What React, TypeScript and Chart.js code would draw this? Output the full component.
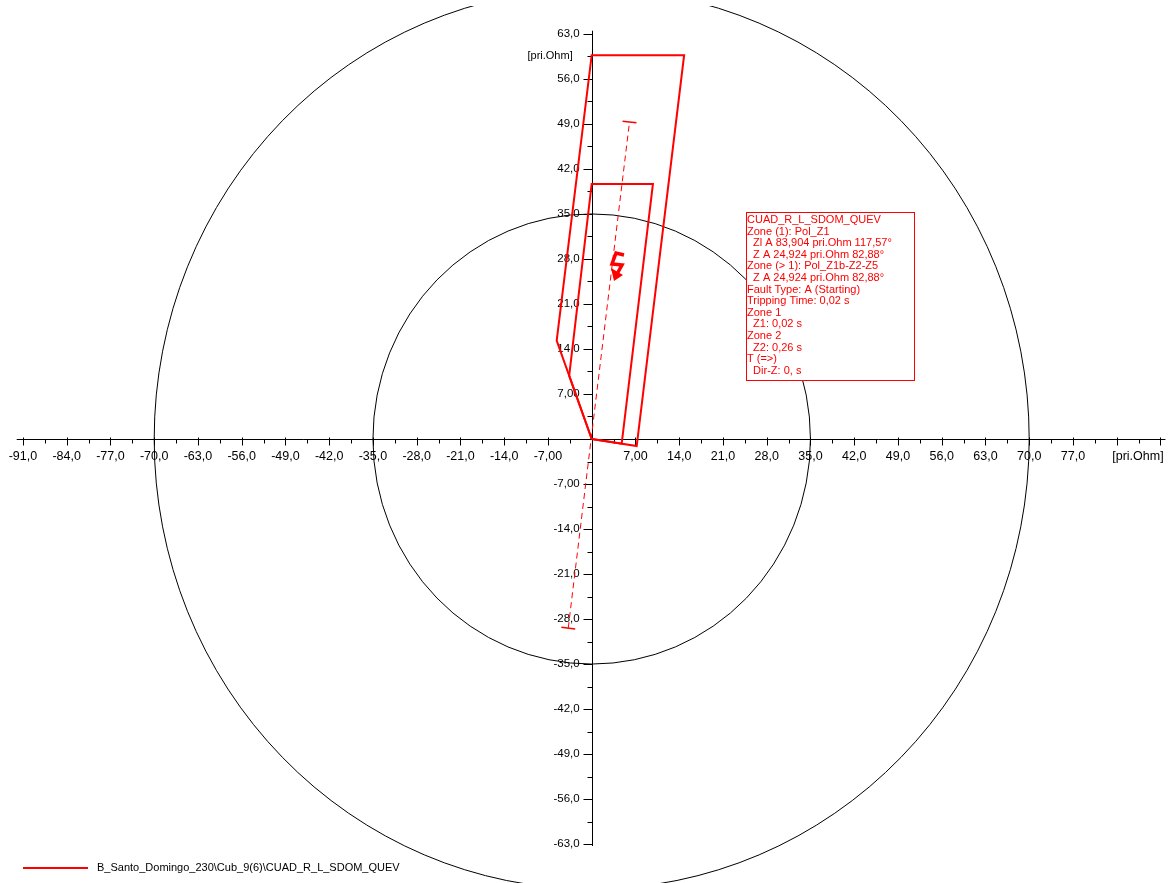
import React, { useEffect, useRef } from "react";
import { Chart, registerables } from "chart.js";

Chart.register(...registerables);

// Zone polygons (R, X in pri.Ohm)
const zone1R = [0, 4.8, 9.8, 0, -3.6, 0];
const zone1X = [0, -0.73, 39.66, 39.66, 9.85, 0];
const zone2R = [0, 7.2, 14.79, 0, -5.6, 0];
const zone2X = [0, -1.09, 59.7, 59.7, 15.3, 0];

// Line impedance direction (dashed), ends
const lineR = [-3.75, 6.05];
const lineX = [-29.4, 49.3];

// Fault impedance point
const faultR = [3.09];
const faultX = [24.73];

// Reference circles (radius in pri.Ohm)
const circleRadii = [35, 70];

// Axis ticks
const xTickValues = [-91, -84, -77, -70, -63, -56, -49, -42, -35, -28, -21, -14, -7, 7, 14, 21, 28, 35, 42, 49, 56, 63, 70, 77];
const yTickValues = [63, 56, 49, 42, 35, 28, 21, 14, 7, -7, -14, -21, -28, -35, -42, -49, -56, -63];
const unitLabel = "[pri.Ohm]";

const infoLines = [
  "CUAD_R_L_SDOM_QUEV",
  "Zone (1): Pol_Z1",
  "  Zl A 83,904 pri.Ohm 117,57°",
  "  Z A 24,924 pri.Ohm 82,88°",
  "Zone (> 1): Pol_Z1b-Z2-Z5",
  "  Z A 24,924 pri.Ohm 82,88°",
  "Fault Type: A (Starting)",
  "Tripping Time: 0,02 s",
  "Zone 1",
  "  Z1: 0,02 s",
  "Zone 2",
  "  Z2: 0,26 s",
  "T (=>)",
  "  Dir-Z: 0, s",
];

const legendLabel = "B_Santo_Domingo_230\\Cub_9(6)\\CUAD_R_L_SDOM_QUEV";

const RED = "#ff0000";
const FONT = "11px 'Liberation Sans', Arial, sans-serif";
const XFONT = "12.5px 'Liberation Sans', Arial, sans-serif";
const YFONT = "11.5px 'Liberation Sans', Arial, sans-serif";

function fmt(v: number): string {
  const s = Math.abs(v) >= 10 ? v.toFixed(1) : v.toFixed(2);
  return s.replace(".", ",");
}

function pts(xs: number[], ys: number[]) {
  return xs.map((x, i) => ({ x, y: ys[i] }));
}

const decorPlugin = {
  id: "decor",
  beforeDatasetsDraw(chart: any) {
    const { ctx, chartArea } = chart;
    const xs = chart.scales.x;
    const ys = chart.scales.y;
    const ox = xs.getPixelForValue(0);
    const oy = ys.getPixelForValue(0);

    // circles
    ctx.save();
    ctx.beginPath();
    ctx.rect(chartArea.left, chartArea.top, chartArea.right - chartArea.left, chartArea.bottom - chartArea.top);
    ctx.clip();
    ctx.strokeStyle = "#000";
    ctx.lineWidth = 1;
    for (const r of circleRadii) {
      const rx = xs.getPixelForValue(r) - ox;
      const ry = oy - ys.getPixelForValue(r);
      ctx.beginPath();
      ctx.ellipse(ox, oy, rx, ry, 0, 0, Math.PI * 2);
      ctx.stroke();
    }
    ctx.restore();

    // axes
    ctx.save();
    const ax = Math.round(ox) + 0.5;
    const ay = Math.round(oy) + 0.5;
    ctx.strokeStyle = "#000";
    ctx.lineWidth = 1;
    ctx.beginPath();
    ctx.moveTo(xs.getPixelForValue(-92), ay);
    ctx.lineTo(xs.getPixelForValue(91.8), ay);
    ctx.moveTo(ax, ys.getPixelForValue(63.5));
    ctx.lineTo(ax, ys.getPixelForValue(-63.3));
    ctx.stroke();

    // x ticks
    ctx.beginPath();
    for (let v = -91; v <= 91.01; v += 3.5) {
      if (Math.abs(v) < 0.01) continue;
      const px = Math.round(xs.getPixelForValue(v)) + 0.5;
      const major = Math.abs(v / 7 - Math.round(v / 7)) < 1e-6;
      ctx.moveTo(px, ay - (major ? 2 : 0));
      ctx.lineTo(px, ay + (major ? 6 : 4));
    }
    // y ticks
    for (let v = -63; v <= 63.01; v += 3.5) {
      if (Math.abs(v) < 0.01) continue;
      const py = Math.round(ys.getPixelForValue(v)) + 0.5;
      const major = Math.abs(v / 7 - Math.round(v / 7)) < 1e-6;
      ctx.moveTo(ax - (major ? 9 : 5), py);
      ctx.lineTo(ax, py);
    }
    ctx.stroke();

    ctx.fillStyle = "#000";
    ctx.font = XFONT;
    ctx.textBaseline = "middle";
    ctx.textAlign = "center";
    for (const v of xTickValues) {
      ctx.fillText(fmt(v), xs.getPixelForValue(v), oy + 17.5);
    }
    ctx.fillText(unitLabel, xs.getPixelForValue(87.4), oy + 17.5);
    ctx.font = YFONT;
    ctx.textAlign = "right";
    for (const v of yTickValues) {
      ctx.fillText(fmt(v), ox - 12, ys.getPixelForValue(v));
    }
    ctx.font = FONT;
    ctx.fillText(unitLabel, ox - 19, ys.getPixelForValue(59.6));
    ctx.restore();
  },
  afterDatasetsDraw(chart: any) {
    const { ctx } = chart;
    const xs = chart.scales.x;
    const ys = chart.scales.y;

    // caps at ends of the dashed impedance line
    ctx.save();
    const p0x = xs.getPixelForValue(lineR[0]);
    const p0y = ys.getPixelForValue(lineX[0]);
    const p1x = xs.getPixelForValue(lineR[1]);
    const p1y = ys.getPixelForValue(lineX[1]);
    const len = Math.hypot(p1x - p0x, p1y - p0y);
    const dx = (p1x - p0x) / len;
    const dy = (p1y - p0y) / len;
    const nx = -dy;
    const ny = dx;
    ctx.strokeStyle = RED;
    ctx.lineWidth = 1.5;
    ctx.beginPath();
    for (const [px, py] of [[p0x, p0y], [p1x, p1y]]) {
      ctx.moveTo(px - nx * 7, py - ny * 7);
      ctx.lineTo(px + nx * 7, py + ny * 7);
    }
    ctx.stroke();

    // fault marker (lightning arrow)
    const fx = xs.getPixelForValue(faultR[0]) + 1;
    const fy = ys.getPixelForValue(faultX[0]);
    ctx.lineWidth = 3.5;
    ctx.lineJoin = "miter";
    ctx.beginPath();
    ctx.moveTo(fx + 12, fy - 25);
    ctx.lineTo(fx + 4, fy - 27);
    ctx.lineTo(fx + 0, fy - 16);
    ctx.lineTo(fx + 10, fy - 15);
    ctx.lineTo(fx + 5, fy - 6);
    ctx.stroke();
    ctx.fillStyle = RED;
    ctx.beginPath();
    ctx.moveTo(fx - 1, fy - 12);
    ctx.lineTo(fx + 11, fy - 5);
    ctx.lineTo(fx + 2, fy + 1);
    ctx.closePath();
    ctx.fill();
    ctx.restore();

    // info box
    ctx.save();
    const bx = 746.5;
    const by = 212.5;
    const bw = 168;
    const bh = 168;
    ctx.fillStyle = "#fff";
    ctx.fillRect(bx, by, bw, bh);
    ctx.strokeStyle = RED;
    ctx.lineWidth = 1;
    ctx.strokeRect(bx, by, bw, bh);
    ctx.fillStyle = RED;
    ctx.font = FONT;
    ctx.textAlign = "left";
    ctx.textBaseline = "middle";
    infoLines.forEach((t, i) => {
      ctx.fillText(t, 747, 220 + i * 11.6);
    });
    ctx.restore();

    // legend
    ctx.save();
    ctx.strokeStyle = RED;
    ctx.lineWidth = 2;
    ctx.beginPath();
    ctx.moveTo(23, 868);
    ctx.lineTo(88, 868);
    ctx.stroke();
    ctx.fillStyle = "#000";
    ctx.font = FONT;
    ctx.textAlign = "left";
    ctx.textBaseline = "middle";
    ctx.fillText(legendLabel, 97, 868);
    ctx.restore();
  },
};

export default function App() {
  const ref = useRef<HTMLCanvasElement>(null);
  useEffect(() => {
    if (!ref.current) return;
    const chart = new Chart(ref.current, {
      type: "scatter",
      data: {
        datasets: [
          {
            label: "Zone 2",
            data: pts(zone2R, zone2X),
            showLine: true,
            borderColor: RED,
            borderWidth: 2,
            pointRadius: 0,
            fill: false,
            tension: 0,
          },
          {
            label: "Zone 1",
            data: pts(zone1R, zone1X),
            showLine: true,
            borderColor: RED,
            borderWidth: 2,
            pointRadius: 0,
            fill: false,
            tension: 0,
          },
          {
            label: "Line",
            data: pts(lineR, lineX),
            showLine: true,
            borderColor: RED,
            borderWidth: 1,
            borderDash: [6, 4],
            pointRadius: 0,
            fill: false,
          },
        ],
      },
      options: {
        animation: false,
        responsive: false,
        devicePixelRatio: 1,
        events: [],
        layout: { padding: { top: 6, left: 0, right: 0, bottom: 0 } },
        scales: {
          x: { type: "linear", min: -94.67, max: 92.21, display: false },
          y: { type: "linear", min: -69.05, max: 67.34, display: false },
        },
        plugins: {
          legend: { display: false },
          tooltip: { enabled: false },
        },
      },
      plugins: [decorPlugin],
    });
    return () => chart.destroy();
  }, []);
  return (
    <div style={{ position: "absolute", left: 0, top: 0, width: 1168, height: 883, background: "#fff" }}>
      <canvas ref={ref} width={1168} height={883} style={{ display: "block", width: 1168, height: 883 }} />
    </div>
  );
}
